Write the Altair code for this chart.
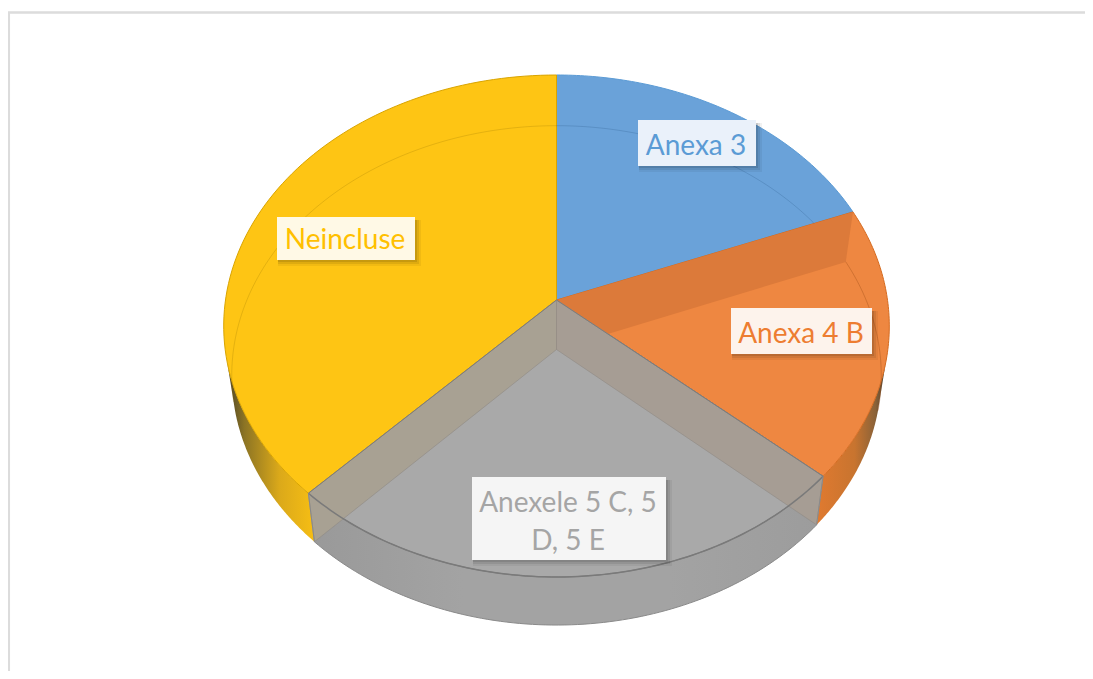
import math
import altair as alt
import pandas as pd

# ---- chart values ----
categories = ["Anexa 3", "Anexa 4 B", "Anexele 5 C, 5 D, 5 E", "Neincluse"]
shares = [19.0, 17.5, 25.7, 37.8]
face_colors = ["#6AA2D9", "#EE8741", "#A9A9A9", "#FEC514"]
edge_colors = ["#5B9BD5", "#D56B20", "#7C7C7C", "#D9A400"]
text_colors = ["#5B9BD5", "#ED7D31", "#A5A5A5", "#FFC000"]
box_colors = ["#EAF1FA", "#FDF3EC", "#F5F5F5", "#FFF9E6"]

# ---- label layout (page px) ----
label_boxes = [(638, 120, 756, 166), (731, 308, 872, 354), (472, 477, 666, 560), (277, 217, 415, 260)]
label_lines = [
    [("Anexa 3", 696, 147)],
    [("Anexa 4 B", 801, 335)],
    [("Anexele 5 C, 5", 568, 504), ("D, 5 E", 568, 542)],
    [("Neincluse", 345, 241)],
]

# ---- pie geometry (tilted disc with perspective) ----
OX, OY = 8, 8
CX, K = 556.5, 0.1036
TOP = dict(A=331.0, B=248.3, cy=300.0)
BOT = dict(A=323.0, B=247.0, cy=349.5)


def pt(deg, A, B, cy):
    t = math.radians(deg)
    u, v = math.sin(t), math.cos(t)
    w = 1 + K * v
    return [CX + A * u / w - OX, cy - B * v / w - OY]


def arc(a, b, f, n=90):
    return [pt(a + (b - a) * i / n, **f) for i in range(n + 1)]


def center(f):
    return [CX - OX, f["cy"] - OY]


def shape(coords, closed=True, **style):
    if closed:
        geom = {"type": "Polygon", "coordinates": [coords + [coords[0]]]}
    else:
        geom = {"type": "LineString", "coordinates": coords}
    feat = {"type": "Feature", "properties": {}, "geometry": geom}
    return (
        alt.Chart(alt.Data(values=[feat]))
        .mark_geoshape(**style)
        .project(type="identity", scale=1, translate=[0, 0])
    )


def grad(stops, x1=0, x2=1, y1=0, y2=0):
    return alt.LinearGradient(
        gradient="linear", x1=x1, x2=x2, y1=y1, y2=y2,
        stops=[alt.GradientStop(offset=o, color=c) for o, c in stops],
    )


edges = [0.0]
for s in shares:
    edges.append(edges[-1] + s * 3.6)

layers = []

# outer walls (seen below the top face)
def wall(a, b):
    return arc(a, b, TOP) + arc(b, a, BOT)

layers.append(shape(wall(104, edges[2]), strokeWidth=0,
                    fill=grad([(0, "#E07A30"), (0.55, "#C8742F"), (0.85, "#8A6238"), (1, "#4B3F30")])))
layers.append(shape(wall(edges[3], 256), strokeWidth=0,
                    fill=grad([(0, "#4E4426"), (0.2, "#8C7424"), (0.6, "#DBA91A"), (1, "#F6BE14")])))
layers.append(shape(wall(edges[2], edges[3]), strokeWidth=0,
                    fill=grad([(0, "#999999"), (0.3, "#A3A3A3"), (0.7, "#A3A3A3"), (1, "#9C9C9C")])))

# top faces
for i in range(4):
    poly = [center(TOP)] + arc(edges[i], edges[i + 1], TOP)
    layers.append(shape(poly, fill=face_colors[i], stroke=edge_colors[i], strokeWidth=1))

# far rim of the base, seen through the top
layers.append(shape(arc(258, 360, BOT), closed=False, filled=False, stroke="#8A6A00", strokeOpacity=0.22, strokeWidth=1))
layers.append(shape(arc(0, edges[1], BOT), closed=False, filled=False, stroke="#1F4E79", strokeOpacity=0.22, strokeWidth=1))
layers.append(shape(arc(edges[1], 104, BOT), closed=False, filled=False, stroke="#A0501A", strokeOpacity=0.4, strokeWidth=1))

# inner radial walls
r1 = pt(edges[1], **TOP)
r1b = pt(edges[1], **BOT)
layers.append(shape([center(TOP), r1, r1b, center(BOT)], fill="#DC7A3A", strokeWidth=0))
r2, r2b = pt(edges[2], **TOP), pt(edges[2], **BOT)
r3, r3b = pt(edges[3], **TOP), pt(edges[3], **BOT)
layers.append(shape([center(TOP), r2, r2b, center(BOT)], fill="#A69D94", stroke="#8F8A84", strokeWidth=0.6))
layers.append(shape([center(TOP), r3, r3b, center(BOT)], fill="#A8A193", stroke="#8F8A84", strokeWidth=0.6))

# gray rim lines
layers.append(shape(arc(edges[2], edges[3], TOP), closed=False, filled=False, stroke="#7A7A7A", strokeWidth=1.5))
layers.append(shape(arc(edges[2], edges[3], BOT), closed=False, filled=False, stroke="#8A8A8A", strokeWidth=1))
layers.append(shape([center(TOP), r2], closed=False, filled=False, stroke="#7C7C7C", strokeWidth=1))
layers.append(shape([center(TOP), r3], closed=False, filled=False, stroke="#7C7C7C", strokeWidth=1))
layers.append(shape([r2, pt(edges[2], **BOT)], closed=False, filled=False, stroke="#8A8A8A", strokeWidth=1))
layers.append(shape([r3, pt(edges[3], **BOT)], closed=False, filled=False, stroke="#8A8A8A", strokeWidth=1))

# frame
layers.append(shape([[0.8, 680], [0.8, 4.5], [1090, 4.5]], closed=False, filled=False, stroke="#DCDCDC", strokeWidth=2.5))

# data labels
rows = []
for i, (box, lines) in enumerate(zip(label_boxes, label_lines)):
    x0, y0, x1, y1 = box
    x0, x1, y0, y1 = x0 - OX, x1 - OX, y0 - OY, y1 - OY
    for d, op in [(6, 0.05), (4, 0.08), (2, 0.1)]:
        layers.append(shape([[x0 + 1, y0 + 3], [x1 + d, y0 + 3], [x1 + d, y1 + d], [x0 + 1, y1 + d]],
                            fill="#000000", fillOpacity=op, strokeWidth=0))
    layers.append(shape([[x0, y0], [x1, y0], [x1, y1], [x0, y1]], fill=box_colors[i], strokeWidth=0))
    for text, tx, ty in lines:
        rows.append({"t": text, "x": tx - OX, "y": ty - OY, "c": text_colors[i]})

labels = (
    alt.Chart(pd.DataFrame(rows))
    .mark_text(font="Lato", fontSize=28, align="center", baseline="middle")
    .encode(longitude="x:Q", latitude="y:Q", text="t:N", color=alt.Color("c:N", scale=None))
    .project(type="identity", scale=1, translate=[0, 0])
)
layers.append(labels)

chart = alt.layer(*layers).properties(
    width=1077, height=663, padding=0, background="white",
    autosize=alt.AutoSizeParams(type="none"),
).configure_view(strokeWidth=0)

chart.save("out.html", embed_options={"renderer": "svg", "actions": False})
